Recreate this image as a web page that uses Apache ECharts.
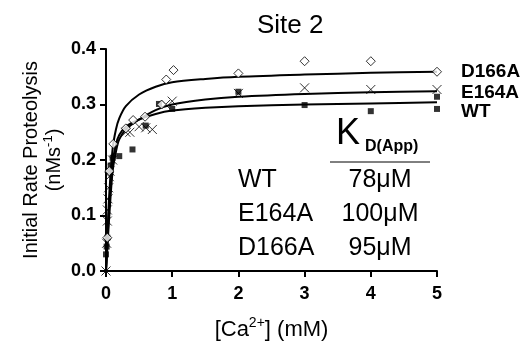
<!DOCTYPE html>
<html>
<head>
<meta charset="utf-8">
<script src="https://cdn.jsdelivr.net/npm/echarts@6/dist/echarts.min.js"></script>
<style>
  html, body { margin: 0; padding: 0; background: #fff; }
  #chart { width: 527px; height: 342px; }
</style>
</head>
<body>
<div id="chart"></div>
<script>
  // fitted curves
  const curveX = [0, 0.02, 0.05, 0.1, 0.15, 0.2, 0.3, 0.5, 0.75, 1, 1.5, 2, 3, 4, 5]
  const curveD166A = [0, 0.06, 0.14, 0.22, 0.255, 0.275, 0.297, 0.318, 0.332, 0.34, 0.346, 0.35, 0.354, 0.357, 0.359]
  const curveE164A = [0, 0.04, 0.1, 0.18, 0.215, 0.237, 0.255, 0.273, 0.29, 0.3, 0.309, 0.314, 0.319, 0.322, 0.324]
  const curveWT = [0, 0.05, 0.12, 0.195, 0.228, 0.245, 0.26, 0.273, 0.283, 0.289, 0.294, 0.297, 0.3, 0.302, 0.304]

  // measured points
  const pointsWT = [[0, 0.03], [0.01, 0.044], [0.02, 0.06], [0.05, 0.18], [0.07, 0.19], [0.1, 0.204],
    [0.2, 0.207], [0.4, 0.219], [0.6, 0.262], [0.8, 0.301], [1, 0.292], [2, 0.323], [3, 0.299],
    [4, 0.288], [5, 0.314], [5, 0.292]]
  const pointsE164A = [[0, 0], [0.01, 0.05], [0.02, 0.09], [0.02, 0.11], [0.03, 0.13], [0.04, 0.15],
    [0.05, 0.17], [0.06, 0.18], [0.1, 0.2], [0.3, 0.25], [0.36, 0.25], [0.5, 0.26], [0.6, 0.258],
    [0.7, 0.255], [0.9, 0.3], [1, 0.306], [2, 0.32], [3, 0.33], [4, 0.327], [5, 0.327]]
  const pointsD166A = [[0.02, 0.06], [0.05, 0.18], [0.11, 0.229], [0.3, 0.257], [0.41, 0.272],
    [0.59, 0.278], [0.84, 0.3], [0.91, 0.345], [1.02, 0.362], [2, 0.356], [3, 0.378], [4, 0.378], [5, 0.359]]

  const xTicks = [0, 1, 2, 3, 4, 5]
  const yTicks = [0, 0.1, 0.2, 0.3, 0.4]
  const kdNames = ['WT', 'E164A', 'D166A']
  const kdValues = ['78μM', '100μM', '95μM']

  const font = 'Liberation Sans, Arial, sans-serif'
  const chart = echarts.init(document.getElementById('chart'))

  function curveSeries(name, ys, labelOffset) {
    return {
      name: name,
      type: 'line',
      data: curveX.map((x, i) => [x, ys[i]]),
      smooth: 0.3,
      showSymbol: false,
      lineStyle: { color: '#000', width: 2 },
      endLabel: {
        show: true,
        formatter: name,
        offset: labelOffset,
        color: '#000',
        fontFamily: font,
        fontWeight: 'bold',
        fontSize: 19,
      },
      z: 3,
    }
  }

  const axisCommon = {
    axisLine: { show: true, onZero: false, lineStyle: { color: '#000', width: 2 } },
    axisTick: { show: true, inside: false, length: 6, lineStyle: { color: '#000', width: 2 } },
    splitLine: { show: false },
    nameMoveOverlap: false,
  }

  // K_D(App) table
  const kdText = []
  kdNames.forEach((n, i) => {
    kdText.push({ type: 'text', x: 238, y: 180 + i * 34,
      style: { text: n, font: '25px ' + font, fill: '#000', verticalAlign: 'middle' } })
    kdText.push({ type: 'text', x: 380, y: 180 + i * 34,
      style: { text: kdValues[i], font: '25px ' + font, fill: '#000', align: 'center', verticalAlign: 'middle' } })
  })

  const option = {
    animation: false,
    backgroundColor: '#fff',
    title: {
      text: 'Site 2',
      left: 252,
      top: 8,
      textStyle: { fontFamily: font, fontSize: 26, fontWeight: 'normal', color: '#000' },
    },
    grid: { left: 106, right: 90, top: 49, bottom: 71, outerBoundsMode: 'none', containLabel: false },
    xAxis: Object.assign({
      type: 'value',
      min: 0,
      max: 5,
      interval: 1,
      name: '[Ca{sup|2+}] (mM)',
      nameLocation: 'middle',
      nameGap: 45,
      nameTextStyle: {
        fontFamily: font, fontSize: 22, color: '#000',
        rich: { sup: { fontFamily: font, fontSize: 14, color: '#000', padding: [0, 0, 13, 0] } },
      },
      axisLabel: {
        color: '#000', fontFamily: font, fontWeight: 'bold', fontSize: 18, margin: 14,
        formatter: v => xTicks.includes(v) ? String(v) : '',
      },
    }, axisCommon),
    yAxis: Object.assign({
      type: 'value',
      min: 0,
      max: 0.4,
      interval: 0.1,
      name: 'Initial Rate Proteolysis\n(nMs{sup|-1})',
      nameLocation: 'middle',
      nameRotate: 90,
      nameGap: 40,
      nameTextStyle: {
        fontFamily: font, fontSize: 20, color: '#000', lineHeight: 23, align: 'center',
        rich: { sup: { fontFamily: font, fontSize: 13, color: '#000', padding: [0, 0, 12, 0] } },
      },
      axisLabel: {
        color: '#000', fontFamily: font, fontWeight: 'bold', fontSize: 18, margin: 10,
        formatter: v => yTicks.some(t => Math.abs(t - v) < 1e-9) ? v.toFixed(1) : '',
      },
    }, axisCommon),
    series: [
      curveSeries('D166A', curveD166A, [16, 0]),
      curveSeries('E164A', curveE164A, [16, 2]),
      curveSeries('WT', curveWT, [16, 9]),
      {
        name: 'WT pts', type: 'scatter', data: pointsWT, symbol: 'rect', symbolSize: 6,
        itemStyle: { color: '#000' }, z: 4,
      },
      {
        name: 'E164A pts', type: 'scatter', data: pointsE164A,
        symbol: 'path://M0,0L10,10M10,0L0,10', symbolSize: 9,
        itemStyle: { color: 'transparent', borderColor: '#000', borderWidth: 1 }, z: 4,
      },
      {
        name: 'D166A pts', type: 'scatter', data: pointsD166A, symbol: 'diamond', symbolSize: 9,
        itemStyle: { color: '#fff', borderColor: '#000', borderWidth: 1 }, z: 4,
      },
    ],
    graphic: [
      { type: 'text', left: 336, top: 116, style: { text: 'K', font: '36px ' + font, fill: '#000' } },
      { type: 'text', left: 365, top: 139, style: { text: 'D(App)', font: 'bold 16px ' + font, fill: '#000' } },
      { type: 'line', shape: { x1: 330, y1: 162, x2: 430, y2: 162 }, style: { stroke: '#000', lineWidth: 1 } },
    ].concat(kdText),
  }

  chart.setOption(option)
</script>
</body>
</html>
